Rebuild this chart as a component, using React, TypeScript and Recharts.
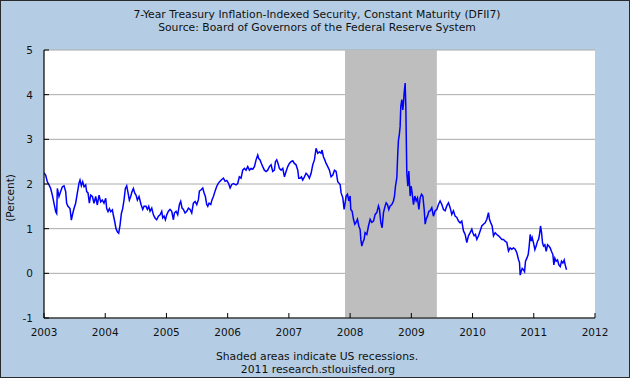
import React from 'react';
import { LineChart, Line, XAxis, YAxis, CartesianGrid, ReferenceArea } from 'recharts';

const titleLine1 = '7-Year Treasury Inflation-Indexed Security, Constant Maturity (DFII7)';
const titleLine2 = 'Source: Board of Governors of the Federal Reserve System';
const footerLine1 = 'Shaded areas indicate US recessions.';
const footerLine2 = '2011 research.stlouisfed.org';
const yAxisLabel = '(Percent)';

const yearTicks = [2003, 2004, 2005, 2006, 2007, 2008, 2009, 2010, 2011, 2012];
const percentTicks = [-1, 0, 1, 2, 3, 4, 5];
const recessionStart = 2007.917;
const recessionEnd = 2009.417;

// [decimal year, percent]
const obs2003to2004: [number, number][] = [
  [2003.000, 2.25], [2003.027, 2.20], [2003.054, 2.05], [2003.082, 1.98], [2003.109, 1.90],
  [2003.136, 1.75], [2003.163, 1.57], [2003.191, 1.38], [2003.207, 1.34], [2003.218, 1.90],
  [2003.245, 1.72], [2003.272, 1.83], [2003.300, 1.94], [2003.327, 1.96], [2003.354, 1.83],
  [2003.370, 1.57], [2003.392, 1.50], [2003.425, 1.45], [2003.447, 1.19], [2003.463, 1.30],
  [2003.490, 1.45], [2003.517, 1.57], [2003.545, 1.80], [2003.572, 2.02], [2003.588, 2.09],
  [2003.610, 1.96], [2003.632, 2.05], [2003.654, 1.94], [2003.681, 1.98], [2003.697, 1.83],
  [2003.719, 1.80], [2003.741, 1.57], [2003.763, 1.75], [2003.790, 1.72], [2003.817, 1.57],
  [2003.844, 1.72], [2003.871, 1.53], [2003.899, 1.75], [2003.926, 1.60], [2003.953, 1.64],
  [2003.980, 1.57], [2004.008, 1.68], [2004.024, 1.45], [2004.046, 1.38], [2004.068, 1.45],
  [2004.089, 1.38], [2004.117, 1.42], [2004.133, 1.30], [2004.155, 1.16], [2004.176, 1.00],
  [2004.198, 0.93], [2004.220, 0.90], [2004.242, 1.08], [2004.264, 1.34], [2004.285, 1.45],
  [2004.307, 1.64], [2004.329, 1.90], [2004.351, 1.96], [2004.373, 1.80], [2004.394, 1.64],
  [2004.416, 1.72], [2004.438, 1.83], [2004.460, 1.90], [2004.481, 1.80], [2004.503, 1.75],
  [2004.525, 1.64], [2004.552, 1.72],
];

const obs2004to2006: [number, number][] = [
  [2004.585, 1.54], [2004.613, 1.43], [2004.634, 1.50], [2004.667, 1.50], [2004.689, 1.43],
  [2004.711, 1.50], [2004.732, 1.39], [2004.760, 1.46], [2004.787, 1.31], [2004.814, 1.24],
  [2004.841, 1.20], [2004.869, 1.28], [2004.896, 1.31], [2004.923, 1.39], [2004.939, 1.24],
  [2004.961, 1.28], [2004.983, 1.20], [2005.005, 1.31], [2005.032, 1.39], [2005.059, 1.43],
  [2005.086, 1.39], [2005.114, 1.20], [2005.130, 1.35], [2005.157, 1.39], [2005.184, 1.31],
  [2005.212, 1.54], [2005.233, 1.61], [2005.255, 1.46], [2005.277, 1.43], [2005.304, 1.35],
  [2005.332, 1.39], [2005.359, 1.46], [2005.386, 1.43], [2005.413, 1.35], [2005.440, 1.57],
  [2005.468, 1.61], [2005.495, 1.54], [2005.522, 1.65], [2005.538, 1.84], [2005.566, 1.87],
  [2005.593, 1.91], [2005.615, 1.80], [2005.636, 1.72], [2005.658, 1.54], [2005.675, 1.50],
  [2005.696, 1.57], [2005.724, 1.54], [2005.745, 1.65], [2005.767, 1.72], [2005.794, 1.84],
  [2005.822, 1.95], [2005.849, 2.02], [2005.876, 2.06], [2005.903, 2.10], [2005.931, 2.13],
  [2005.958, 2.06], [2005.985, 2.08], [2006.012, 2.02], [2006.040, 1.91], [2006.067, 1.99],
  [2006.094, 2.01], [2006.121, 1.99],
];

const obs2006to2007: [number, number][] = [
  [2006.137, 1.98], [2006.164, 2.01], [2006.191, 2.16], [2006.219, 2.13], [2006.246, 2.31],
  [2006.273, 2.35], [2006.300, 2.31], [2006.328, 2.39], [2006.355, 2.31], [2006.382, 2.35],
  [2006.409, 2.33], [2006.437, 2.39], [2006.464, 2.54], [2006.491, 2.65], [2006.507, 2.57],
  [2006.529, 2.54], [2006.551, 2.46], [2006.573, 2.39], [2006.600, 2.31], [2006.627, 2.28],
  [2006.654, 2.31], [2006.682, 2.39], [2006.709, 2.43], [2006.736, 2.28], [2006.763, 2.31],
  [2006.780, 2.50], [2006.801, 2.54], [2006.823, 2.46], [2006.845, 2.35], [2006.872, 2.31],
  [2006.900, 2.35], [2006.927, 2.16], [2006.954, 2.28], [2006.981, 2.39], [2007.008, 2.46],
  [2007.036, 2.50], [2007.063, 2.52], [2007.090, 2.46], [2007.117, 2.43], [2007.145, 2.31],
  [2007.161, 2.13], [2007.183, 2.13], [2007.205, 2.16], [2007.226, 2.09], [2007.254, 2.16],
  [2007.281, 2.24], [2007.308, 2.20], [2007.335, 2.13], [2007.363, 2.24], [2007.390, 2.43],
  [2007.417, 2.54], [2007.444, 2.80], [2007.471, 2.69], [2007.499, 2.72], [2007.526, 2.69],
  [2007.542, 2.76], [2007.564, 2.61], [2007.586, 2.54], [2007.608, 2.46], [2007.635, 2.39],
  [2007.662, 2.31], [2007.689, 2.16], [2007.717, 2.20], [2007.744, 2.31], [2007.771, 2.28],
  [2007.798, 2.05],
];

const obs2007to2009: [number, number][] = [
  [2007.837, 1.99], [2007.853, 1.80], [2007.881, 1.69], [2007.902, 1.43], [2007.919, 1.58],
  [2007.935, 1.73], [2007.957, 1.77], [2007.979, 1.62], [2008.000, 1.73], [2008.011, 1.43],
  [2008.033, 1.39], [2008.055, 1.21], [2008.077, 1.10], [2008.098, 1.14], [2008.120, 1.21],
  [2008.142, 1.06], [2008.164, 0.98], [2008.175, 0.76], [2008.191, 0.61], [2008.207, 0.69],
  [2008.229, 0.76], [2008.245, 0.91], [2008.273, 0.87], [2008.300, 1.06], [2008.327, 1.21],
  [2008.354, 1.14], [2008.382, 1.17], [2008.409, 1.32], [2008.436, 1.36], [2008.463, 1.51],
  [2008.480, 1.43], [2008.501, 1.14], [2008.523, 1.02], [2008.545, 1.36], [2008.572, 1.51],
  [2008.589, 1.58], [2008.610, 1.54], [2008.632, 1.43], [2008.654, 1.51], [2008.681, 1.54],
  [2008.708, 1.62], [2008.725, 1.73], [2008.741, 1.95], [2008.763, 2.14], [2008.779, 2.70],
  [2008.790, 2.99], [2008.801, 3.07], [2008.817, 3.29], [2008.828, 3.74], [2008.845, 3.89],
  [2008.861, 3.66], [2008.872, 3.81], [2008.883, 4.04], [2008.899, 4.26], [2008.910, 3.74],
  [2008.926, 2.25], [2008.943, 1.95], [2008.959, 2.29], [2008.981, 1.73], [2008.997, 1.95],
  [2009.013, 1.80], [2009.035, 1.54], [2009.057, 1.73], [2009.079, 1.62], [2009.101, 1.69],
  [2009.123, 1.43], [2009.144, 1.69], [2009.166, 1.77], [2009.188, 1.73], [2009.210, 1.43],
  [2009.226, 1.10], [2009.242, 1.21], [2009.264, 1.28], [2009.286, 1.39],
];

const obs2009to2010: [number, number][] = [
  [2009.307, 1.40], [2009.334, 1.47], [2009.361, 1.28], [2009.389, 1.40], [2009.416, 1.43],
  [2009.443, 1.54], [2009.470, 1.62], [2009.498, 1.54], [2009.525, 1.43], [2009.552, 1.40],
  [2009.579, 1.51], [2009.607, 1.58], [2009.634, 1.47], [2009.661, 1.32], [2009.688, 1.40],
  [2009.715, 1.28], [2009.743, 1.25], [2009.770, 1.17], [2009.797, 1.13], [2009.824, 1.17],
  [2009.852, 0.95], [2009.879, 0.87], [2009.906, 0.69], [2009.933, 0.84], [2009.961, 0.91],
  [2009.988, 0.99], [2010.004, 0.91], [2010.026, 0.84], [2010.048, 0.87], [2010.070, 0.76],
  [2010.097, 0.84], [2010.124, 0.95], [2010.151, 1.06], [2010.178, 1.10], [2010.206, 1.13],
  [2010.233, 1.21], [2010.260, 1.36], [2010.276, 1.21], [2010.298, 1.13], [2010.320, 1.06],
  [2010.342, 0.84], [2010.369, 0.91], [2010.396, 0.87], [2010.424, 0.84], [2010.451, 0.80],
  [2010.478, 0.76], [2010.505, 0.76], [2010.532, 0.72], [2010.560, 0.69], [2010.587, 0.50],
  [2010.614, 0.57], [2010.641, 0.54], [2010.669, 0.57], [2010.696, 0.54], [2010.723, 0.46],
  [2010.750, 0.31], [2010.767, 0.24],
];

const obs2010to2011: [number, number][] = [
  [2010.778, -0.04], [2010.794, 0.04], [2010.811, 0.11], [2010.832, 0.08], [2010.849, 0.04],
  [2010.865, 0.27], [2010.887, 0.34], [2010.909, 0.42], [2010.925, 0.61], [2010.941, 0.87],
  [2010.958, 0.72], [2010.974, 0.80], [2010.996, 0.68], [2011.018, 0.53], [2011.039, 0.61],
  [2011.061, 0.72], [2011.078, 0.76], [2011.094, 0.87], [2011.110, 1.06], [2011.127, 0.91],
  [2011.143, 0.68], [2011.159, 0.61], [2011.181, 0.64], [2011.203, 0.49], [2011.225, 0.64],
  [2011.246, 0.61], [2011.268, 0.57], [2011.290, 0.49], [2011.312, 0.42], [2011.328, 0.19],
  [2011.344, 0.34], [2011.366, 0.27], [2011.388, 0.30], [2011.410, 0.19], [2011.432, 0.15],
  [2011.453, 0.27], [2011.475, 0.23], [2011.497, 0.30], [2011.513, 0.19], [2011.535, 0.08],
];

const data = [
  ...obs2003to2004,
  ...obs2004to2006,
  ...obs2006to2007,
  ...obs2007to2009,
  ...obs2009to2010,
  ...obs2010to2011,
].map(([t, v]) => ({ t, v }));

const FONT = '"DejaVu Sans", Verdana, sans-serif';
const FS = 10.5;
const FS_TITLE = 10.8;
const BG = '#b4cde4';

const YTick = (props: any) => {
  const { x, y, payload } = props;
  return (
    <g>
      <line x1={x} x2={x + 5} y1={y} y2={y} stroke="#000" strokeWidth={1} />
      <text x={x - 11} y={y + 4} textAnchor="end" fontSize={FS} fontFamily={FONT} fill="#111">
        {payload.value}
      </text>
    </g>
  );
};

const XTick = (props: any) => {
  const { x, y, payload } = props;
  return (
    <g>
      <line x1={x} x2={x} y1={y} y2={y - 5} stroke="#000" strokeWidth={1} />
      <text x={x} y={y + 17.5} textAnchor="middle" fontSize={FS} fontFamily={FONT} fill="#111">
        {payload.value}
      </text>
    </g>
  );
};

export default function App() {
  return (
    <div style={{ position: 'absolute', left: 0, top: 0, width: 630, height: 378, background: BG, overflow: 'hidden' }}>
      <LineChart
        width={630}
        height={378}
        data={data}
        margin={{ top: 50, right: 35, bottom: 30, left: 0 }}
      >
        <CartesianGrid vertical={false} stroke="#aaaaaa" fill="#ffffff" strokeWidth={1} />
        <ReferenceArea x1={recessionStart} x2={recessionEnd} y1={-1} y2={5} fill="#bebebe" fillOpacity={1} stroke="none" />
        <XAxis
          dataKey="t"
          type="number"
          domain={[2003, 2012]}
          ticks={yearTicks}
          allowDataOverflow
          height={30}
          tickSize={0}
          tickMargin={0}
          tick={<XTick />}
          axisLine={{ stroke: '#000', strokeWidth: 1.2 }}
          tickLine={false}
        />
        <YAxis
          type="number"
          domain={[-1, 5]}
          ticks={percentTicks}
          width={44}
          tickSize={0}
          tickMargin={0}
          tick={<YTick />}
          axisLine={{ stroke: '#000', strokeWidth: 1.2 }}
          tickLine={false}
        />
        <Line
          dataKey="v"
          type="linear"
          stroke="#0000ff"
          strokeWidth={1.5}
          dot={false}
          activeDot={false}
          isAnimationActive={false}
        />
      </LineChart>
      <svg width={630} height={378} style={{ position: 'absolute', left: 0, top: 0, pointerEvents: 'none' }}>
        <text x={317} y={18} textAnchor="middle" fontSize={FS_TITLE} fontFamily={FONT} fill="#111">{titleLine1}</text>
        <text x={317} y={30.5} textAnchor="middle" fontSize={FS_TITLE} fontFamily={FONT} fill="#111">{titleLine2}</text>
        <text x={317} y={359.5} textAnchor="middle" fontSize={FS_TITLE} fontFamily={FONT} fill="#111">{footerLine1}</text>
        <text x={318} y={372.5} textAnchor="middle" fontSize={FS_TITLE} fontFamily={FONT} fill="#111">{footerLine2}</text>
        <text x={14} y={198} textAnchor="middle" fontSize={FS} fontFamily={FONT} fill="#111" transform="rotate(-90 14 198)">{yAxisLabel}</text>
        <rect x={0.5} y={0.5} width={629} height={377} fill="none" stroke="#2a2a2a" strokeWidth={1} />
      </svg>
    </div>
  );
}
